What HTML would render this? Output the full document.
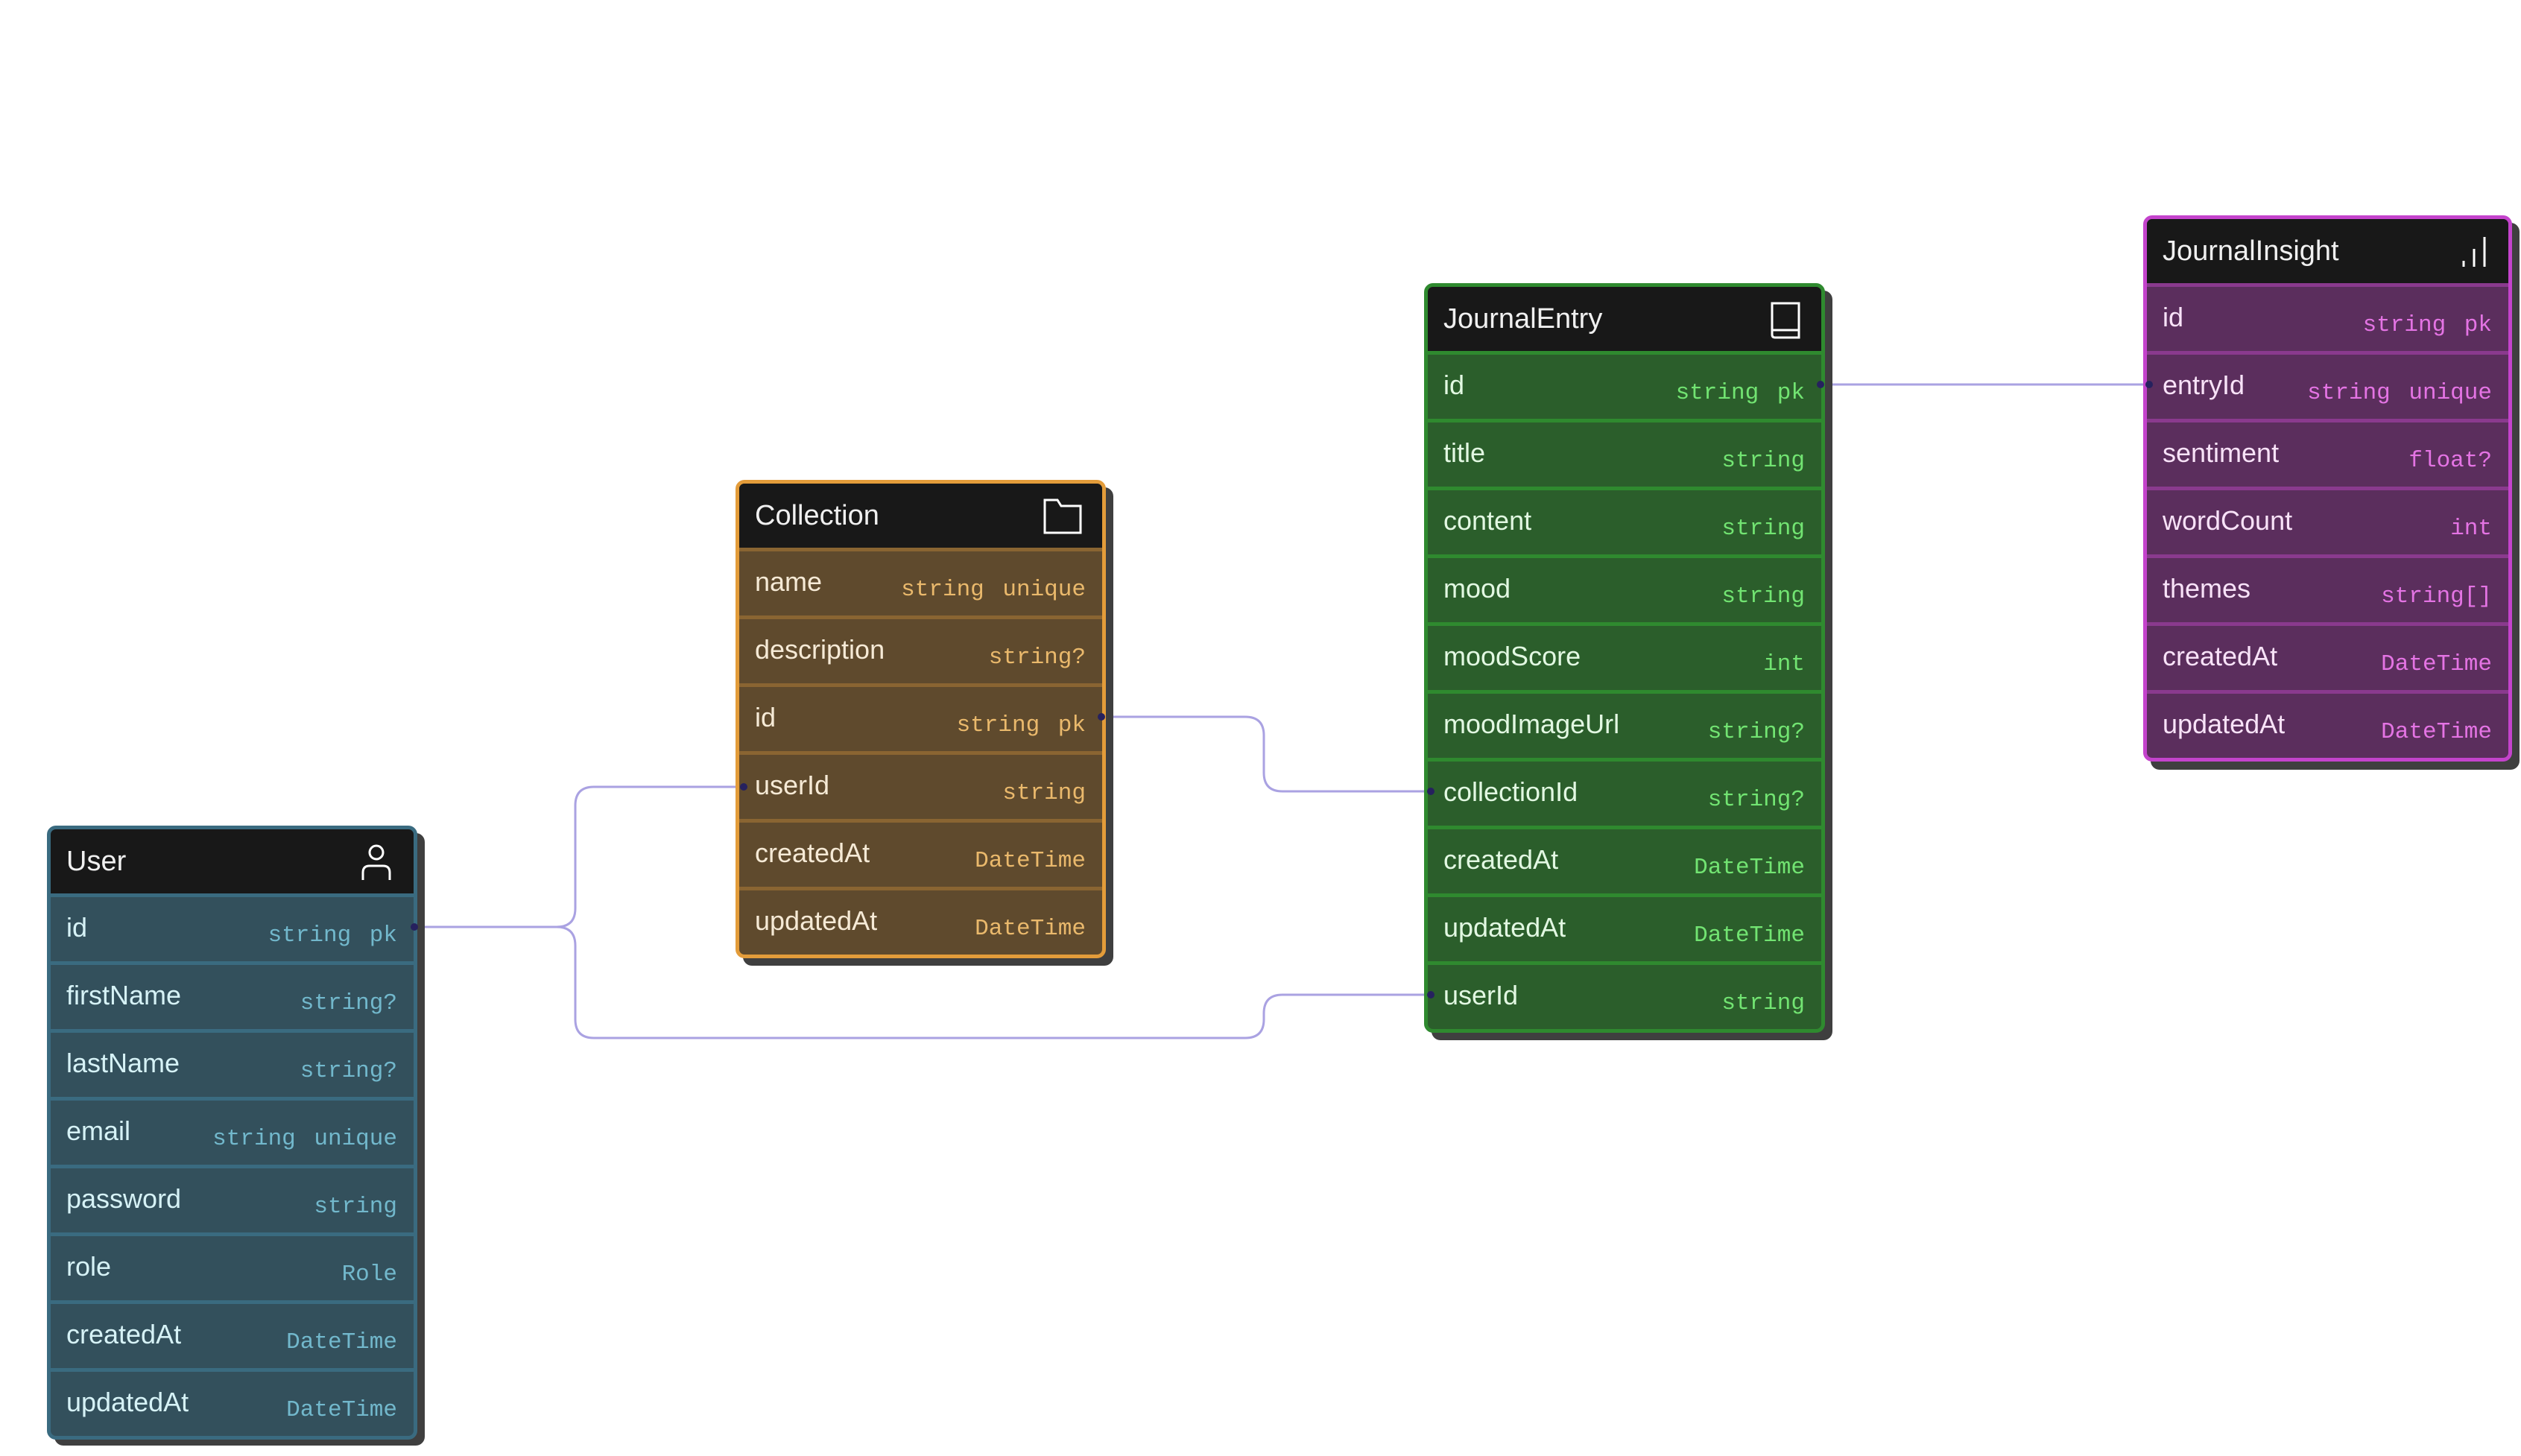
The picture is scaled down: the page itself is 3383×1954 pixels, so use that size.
<!DOCTYPE html>
<html><head><meta charset="utf-8"><style>
body{margin:0;width:3383px;height:1954px;background:#fff;position:relative;overflow:hidden;font-family:"Liberation Sans",sans-serif}
.t{position:absolute;border-radius:12px;border:5px solid;box-sizing:border-box}
.sh{position:absolute;background:#3f3f3f;border-radius:12px}
.hd{height:86px;background:#181818;border-radius:7px 7px 0 0;position:relative;color:#f0f0f0;font-size:38px;line-height:86px;padding-left:21px;border-bottom:5px solid}
.r{height:86px;border-bottom:5px solid;position:relative;font-size:36px}
.r:last-child{border-bottom:none}
.n{position:absolute;left:21px;top:20px}
.ty{position:absolute;right:22px;top:34px;font-family:"Liberation Mono",monospace;font-size:31px;white-space:pre;word-spacing:6px}
.ic{position:absolute;right:26px;top:18px}
</style></head><body>
<svg width="3383" height="1954" style="position:absolute;left:0;top:0;z-index:0" fill="none" stroke="#aaa2e2" stroke-width="3">
<path d="M560 1244 H747 Q772 1244 772 1219 V1081 Q772 1056 797 1056 H995"/>
<path d="M560 1244 H747 Q772 1244 772 1269 V1368 Q772 1393 797 1393 H1671 Q1696 1393 1696 1368 V1360 Q1696 1335 1721 1335 H1920"/>
<path d="M1478 962 H1671 Q1696 962 1696 987 V1037 Q1696 1062 1721 1062 H1920"/>
<path d="M2443 516 H2884"/>
</svg>

<div class="sh" style="left:73px;top:1118px;width:497px;height:822px"></div>
<div class="sh" style="left:997px;top:654px;width:497px;height:642px"></div>
<div class="sh" style="left:1921px;top:390px;width:538px;height:1006px"></div>
<div class="sh" style="left:2886px;top:299px;width:495px;height:734px"></div>

<div class="t" style="left:63px;top:1108px;width:497px;border-color:#3a6b80;background:#33505c;color:#d6f2f6">
<div class="hd" style="border-color:#3a6b80">User<svg class="ic" width="48" height="52" viewBox="0 0 48 52" stroke="#fff" stroke-width="3" fill="none"><circle cx="24" cy="13" r="9"/><path d="M6 50 V40 Q6 31 15 31 H33 Q42 31 42 40 V50"/></svg></div>
<div class="r" style="border-color:#3a6b80"><span class="n">id</span><span class="ty" style="color:#72b8cc">string pk</span></div>
<div class="r" style="border-color:#3a6b80"><span class="n">firstName</span><span class="ty" style="color:#72b8cc">string?</span></div>
<div class="r" style="border-color:#3a6b80"><span class="n">lastName</span><span class="ty" style="color:#72b8cc">string?</span></div>
<div class="r" style="border-color:#3a6b80"><span class="n">email</span><span class="ty" style="color:#72b8cc">string unique</span></div>
<div class="r" style="border-color:#3a6b80"><span class="n">password</span><span class="ty" style="color:#72b8cc">string</span></div>
<div class="r" style="border-color:#3a6b80"><span class="n">role</span><span class="ty" style="color:#72b8cc">Role</span></div>
<div class="r" style="border-color:#3a6b80"><span class="n">createdAt</span><span class="ty" style="color:#72b8cc">DateTime</span></div>
<div class="r" style="border-color:#3a6b80"><span class="n">updatedAt</span><span class="ty" style="color:#72b8cc">DateTime</span></div>
</div>

<div class="t" style="left:987px;top:644px;width:497px;border-color:#e39c3a;background:#5f4a2d;color:#f6ead6">
<div class="hd" style="border-color:#8a6532">Collection<svg class="ic" width="54" height="52" viewBox="0 0 54 52" stroke="#fff" stroke-width="3" fill="none"><path d="M3 4 H20 L25 12 H51 V48 H3 Z"/></svg></div>
<div class="r" style="border-color:#8a6532"><span class="n">name</span><span class="ty" style="color:#eab96c">string unique</span></div>
<div class="r" style="border-color:#8a6532"><span class="n">description</span><span class="ty" style="color:#eab96c">string?</span></div>
<div class="r" style="border-color:#8a6532"><span class="n">id</span><span class="ty" style="color:#eab96c">string pk</span></div>
<div class="r" style="border-color:#8a6532"><span class="n">userId</span><span class="ty" style="color:#eab96c">string</span></div>
<div class="r" style="border-color:#8a6532"><span class="n">createdAt</span><span class="ty" style="color:#eab96c">DateTime</span></div>
<div class="r" style="border-color:#8a6532"><span class="n">updatedAt</span><span class="ty" style="color:#eab96c">DateTime</span></div>
</div>

<div class="t" style="left:1911px;top:380px;width:538px;border-color:#2f8a2f;background:#2b5e2b;color:#e2f8e2">
<div class="hd" style="border-color:#2f8a2f">JournalEntry<svg class="ic" width="44" height="54" viewBox="0 0 44 54" stroke="#fff" stroke-width="3" fill="none"><path d="M4 4 H40 V50 H8 Q4 50 4 46 Z M4 40 H40"/></svg></div>
<div class="r" style="border-color:#2f8a2f"><span class="n">id</span><span class="ty" style="color:#72e472">string pk</span></div>
<div class="r" style="border-color:#2f8a2f"><span class="n">title</span><span class="ty" style="color:#72e472">string</span></div>
<div class="r" style="border-color:#2f8a2f"><span class="n">content</span><span class="ty" style="color:#72e472">string</span></div>
<div class="r" style="border-color:#2f8a2f"><span class="n">mood</span><span class="ty" style="color:#72e472">string</span></div>
<div class="r" style="border-color:#2f8a2f"><span class="n">moodScore</span><span class="ty" style="color:#72e472">int</span></div>
<div class="r" style="border-color:#2f8a2f"><span class="n">moodImageUrl</span><span class="ty" style="color:#72e472">string?</span></div>
<div class="r" style="border-color:#2f8a2f"><span class="n">collectionId</span><span class="ty" style="color:#72e472">string?</span></div>
<div class="r" style="border-color:#2f8a2f"><span class="n">createdAt</span><span class="ty" style="color:#72e472">DateTime</span></div>
<div class="r" style="border-color:#2f8a2f"><span class="n">updatedAt</span><span class="ty" style="color:#72e472">DateTime</span></div>
<div class="r" style="border-color:#2f8a2f"><span class="n">userId</span><span class="ty" style="color:#72e472">string</span></div>
</div>

<div class="t" style="left:2876px;top:289px;width:495px;border-color:#c443cc;background:#5b2e5d;color:#f8e2f8">
<div class="hd" style="border-color:#8a3a8e">JournalInsight<svg class="ic" width="40" height="50" viewBox="0 0 40 50" stroke="#fff" stroke-width="3" fill="none"><path d="M6 46 V38 M20 46 V22 M34 46 V6"/></svg></div>
<div class="r" style="border-color:#8a3a8e"><span class="n">id</span><span class="ty" style="color:#e474e4">string pk</span></div>
<div class="r" style="border-color:#8a3a8e"><span class="n">entryId</span><span class="ty" style="color:#e474e4">string unique</span></div>
<div class="r" style="border-color:#8a3a8e"><span class="n">sentiment</span><span class="ty" style="color:#e474e4">float?</span></div>
<div class="r" style="border-color:#8a3a8e"><span class="n">wordCount</span><span class="ty" style="color:#e474e4">int</span></div>
<div class="r" style="border-color:#8a3a8e"><span class="n">themes</span><span class="ty" style="color:#e474e4">string[]</span></div>
<div class="r" style="border-color:#8a3a8e"><span class="n">createdAt</span><span class="ty" style="color:#e474e4">DateTime</span></div>
<div class="r" style="border-color:#8a3a8e"><span class="n">updatedAt</span><span class="ty" style="color:#e474e4">DateTime</span></div>
</div>

<svg width="3383" height="1954" style="position:absolute;left:0;top:0;z-index:5" fill="#26215e">
<circle cx="556" cy="1244" r="5"/><circle cx="998" cy="1056" r="5"/>
<circle cx="1478" cy="962" r="5"/><circle cx="1920" cy="1062" r="5"/>
<circle cx="1920" cy="1335" r="5"/><circle cx="2443" cy="516" r="5"/>
<circle cx="2884" cy="516" r="5"/>
</svg>
</body></html>
